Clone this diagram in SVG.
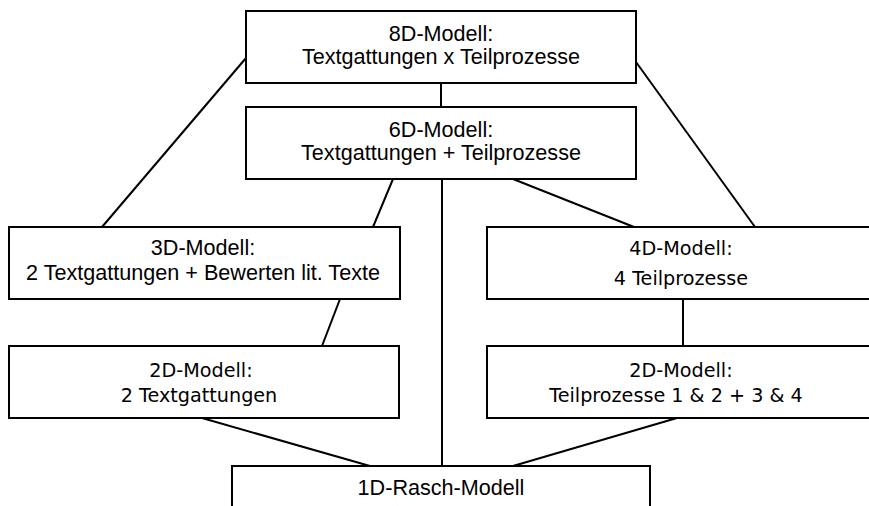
<svg xmlns="http://www.w3.org/2000/svg" width="869" height="506" viewBox="0 0 869 506">
<style>
.box{fill:#fff;stroke:#000;stroke-width:2}
.c line{stroke:#000;stroke-width:2;stroke-linecap:butt}
.a{font-family:"Liberation Sans",Arial,sans-serif;font-size:21.6px;text-anchor:middle;fill:#000}
.t{font-family:"DejaVu Sans",Verdana,sans-serif;font-size:19.2px;text-anchor:middle;fill:#000}
</style>
<rect width="869" height="506" fill="#fff"/>
<g id="connectors" class="c">
<line x1="441" y1="83" x2="441" y2="107"/>
<line x1="246" y1="58" x2="102" y2="227"/>
<line x1="636" y1="62" x2="755" y2="227"/>
<line x1="393" y1="179" x2="373" y2="227"/>
<line x1="513" y1="179" x2="634" y2="227"/>
<line x1="442" y1="179" x2="442" y2="466"/>
<line x1="340" y1="299" x2="322" y2="346"/>
<line x1="683" y1="299" x2="683" y2="346"/>
<line x1="202" y1="418" x2="370" y2="466"/>
<line x1="677" y1="418" x2="513" y2="466"/>
</g>
<g id="n8d">
<rect class="box" x="246" y="11" width="390" height="72"/>
<text class="a" x="441" y="40.5">8D-Modell:</text>
<text class="a" x="441" y="64">Textgattungen x Teilprozesse</text>
</g>
<g id="n6d">
<rect class="box" x="246" y="107" width="390" height="72"/>
<text class="a" x="441" y="136.5">6D-Modell:</text>
<text class="a" x="441" y="160">Textgattungen + Teilprozesse</text>
</g>
<g id="n3d">
<rect class="box" x="9" y="227" width="391" height="72"/>
<text class="a" x="203" y="255">3D-Modell:</text>
<text class="a" x="203" y="280">2 Textgattungen + Bewerten lit. Texte</text>
</g>
<g id="n4d">
<rect class="box" x="487" y="227" width="390" height="72"/>
<text class="t" x="681" y="255">4D-Modell:</text>
<text class="t" x="681" y="285">4 Teilprozesse</text>
</g>
<g id="n2dl">
<rect class="box" x="9" y="346" width="390" height="72"/>
<text class="t" x="201" y="377">2D-Modell:</text>
<text class="t" x="199" y="402">2 Textgattungen</text>
</g>
<g id="n2dr">
<rect class="box" x="487" y="346" width="390" height="72"/>
<text class="t" x="681" y="377">2D-Modell:</text>
<text class="t" x="676" y="402">Teilprozesse 1 &amp; 2 + 3 &amp; 4</text>
</g>
<g id="n1d">
<rect class="box" x="232" y="466" width="418" height="60"/>
<text class="a" x="441" y="495">1D-Rasch-Modell</text>
</g>
</svg>
